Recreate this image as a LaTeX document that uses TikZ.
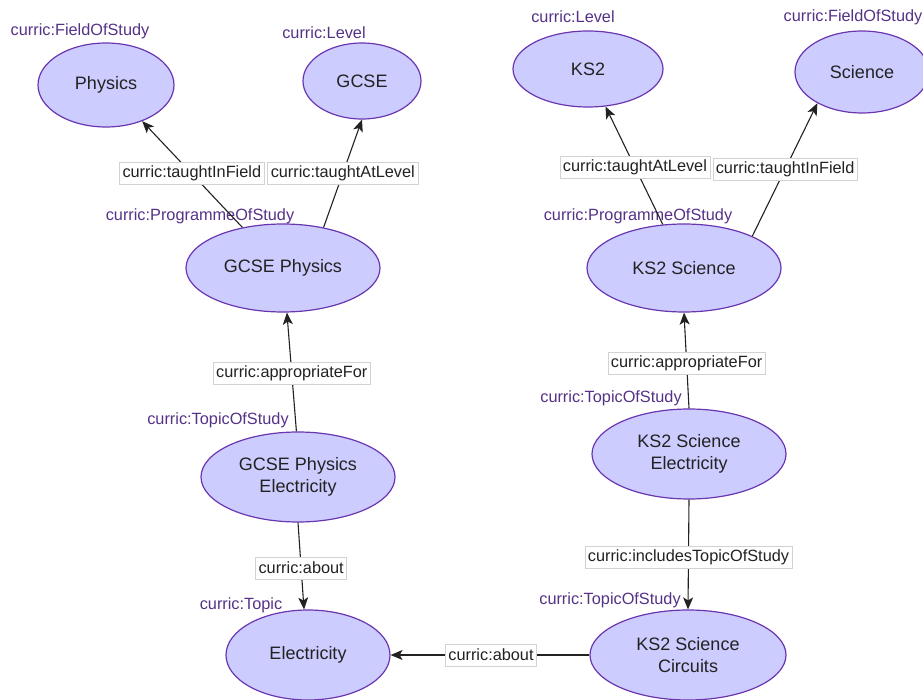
\documentclass[tikz,border=0pt]{standalone}
\usepackage{fontspec}
\setmainfont{Liberation Sans}
\usetikzlibrary{shapes.geometric,arrows.meta}
\definecolor{nodefill}{RGB}{204,204,255}
\definecolor{nodeborder}{RGB}{106,54,176}
\definecolor{typecol}{RGB}{85,50,135}
\definecolor{txtcol}{RGB}{34,34,34}
\definecolor{boxborder}{RGB}{210,210,210}
\begin{document}
\begin{tikzpicture}[x=1pt,y=-1pt,
 res/.style={ellipse, draw=nodeborder, fill=nodefill, line width=1.2pt, inner sep=0pt, text=txtcol, font=\fontsize{18}{22}\selectfont, align=center},
 typelbl/.style={text=typecol, font=\fontsize{16.3}{19}\selectfont, inner sep=0pt},
 edgelbl/.style={draw=boxborder, fill=white, line width=0.6pt, text=txtcol, font=\fontsize{16.3}{19}\selectfont, inner xsep=3pt, inner ysep=0pt, minimum height=22pt},
 rel/.style={draw=txtcol, line width=1.1pt, -{Stealth[length=12pt,width=10pt,inset=3pt]}}
]
\useasboundingbox (0,0) rectangle (923,700);

% resources
\node[res, minimum width=136pt, minimum height=84pt] (phys) at (106,85) {Physics};
\node[res, minimum width=118pt, minimum height=76pt] (gcse) at (362,81) {GCSE};
\node[res, minimum width=150pt, minimum height=76pt] (ks2) at (588,69) {KS2};
\node[res, minimum width=134pt, minimum height=82pt] (sci) at (862,72) {Science};
\node[res, minimum width=194pt, minimum height=88pt] (gp) at (283,268) {GCSE Physics};
\node[res, minimum width=194pt, minimum height=88pt] (ks2s) at (684,268) {KS2 Science};
\node[res, minimum width=194pt, minimum height=90pt] (gpe) at (298,477) {GCSE Physics\\Electricity};
\node[res, minimum width=194pt, minimum height=90pt] (ks2se) at (689,454) {KS2 Science\\Electricity};
\node[res, minimum width=196pt, minimum height=90pt] (ks2sc) at (688,655) {KS2 Science\\Circuits};
\node[res, minimum width=164pt, minimum height=90pt] (elec) at (308,655) {Electricity};

% type labels
\node[typelbl] (t1) at (80,31) {curric:FieldOfStudy};
\node[typelbl] (t2) at (324,33) {curric:Level};
\node[typelbl] (t3) at (200,216) {curric:ProgrammeOfStudy};
\node[typelbl] (t4) at (573,17) {curric:Level};
\node[typelbl] (t5) at (853,17) {curric:FieldOfStudy};
\node[typelbl] (t6) at (638,216) {curric:ProgrammeOfStudy};
\node[typelbl] (t7) at (218,420) {curric:TopicOfStudy};
\node[typelbl] (t8) at (611,398) {curric:TopicOfStudy};
\node[typelbl] (t9) at (610,600) {curric:TopicOfStudy};
\node[typelbl] (t10) at (241,605) {curric:Topic};

% relations
\draw[rel] (gp.135) -- node[edgelbl,pos=0.505] (e1) {curric:taughtInField} (phys.-45);
\draw[rel] (gp.45) -- node[edgelbl,pos=0.5] (e2) {curric:taughtAtLevel} (gcse.south);
\draw[rel] (ks2s.116) -- node[edgelbl,pos=0.487] (e3) {curric:taughtAtLevel} (ks2.295);
\draw[rel] (ks2s.25.6) -- node[edgelbl,pos=0.504] (e4) {curric:taughtInField} (sci.215.5);
\draw[rel] (gpe.92.5) -- node[edgelbl,pos=0.487] (e5) {curric:appropriateFor} (gp.275);
\draw[rel] (ks2se.north) -- node[edgelbl,pos=0.474] (e6) {curric:appropriateFor} (ks2s.south);
\draw[rel] (gpe.south) -- node[edgelbl,pos=0.523] (e7) {curric:about} (elec.95);
\draw[rel] (ks2se.south) -- node[edgelbl,pos=0.527] (e8) {curric:includesTopicOfStudy} (ks2sc.north);
\draw[rel] (ks2sc.west) -- node[edgelbl,pos=0.495] (e9) {curric:about} (elec.east);
\end{tikzpicture}
\end{document}
